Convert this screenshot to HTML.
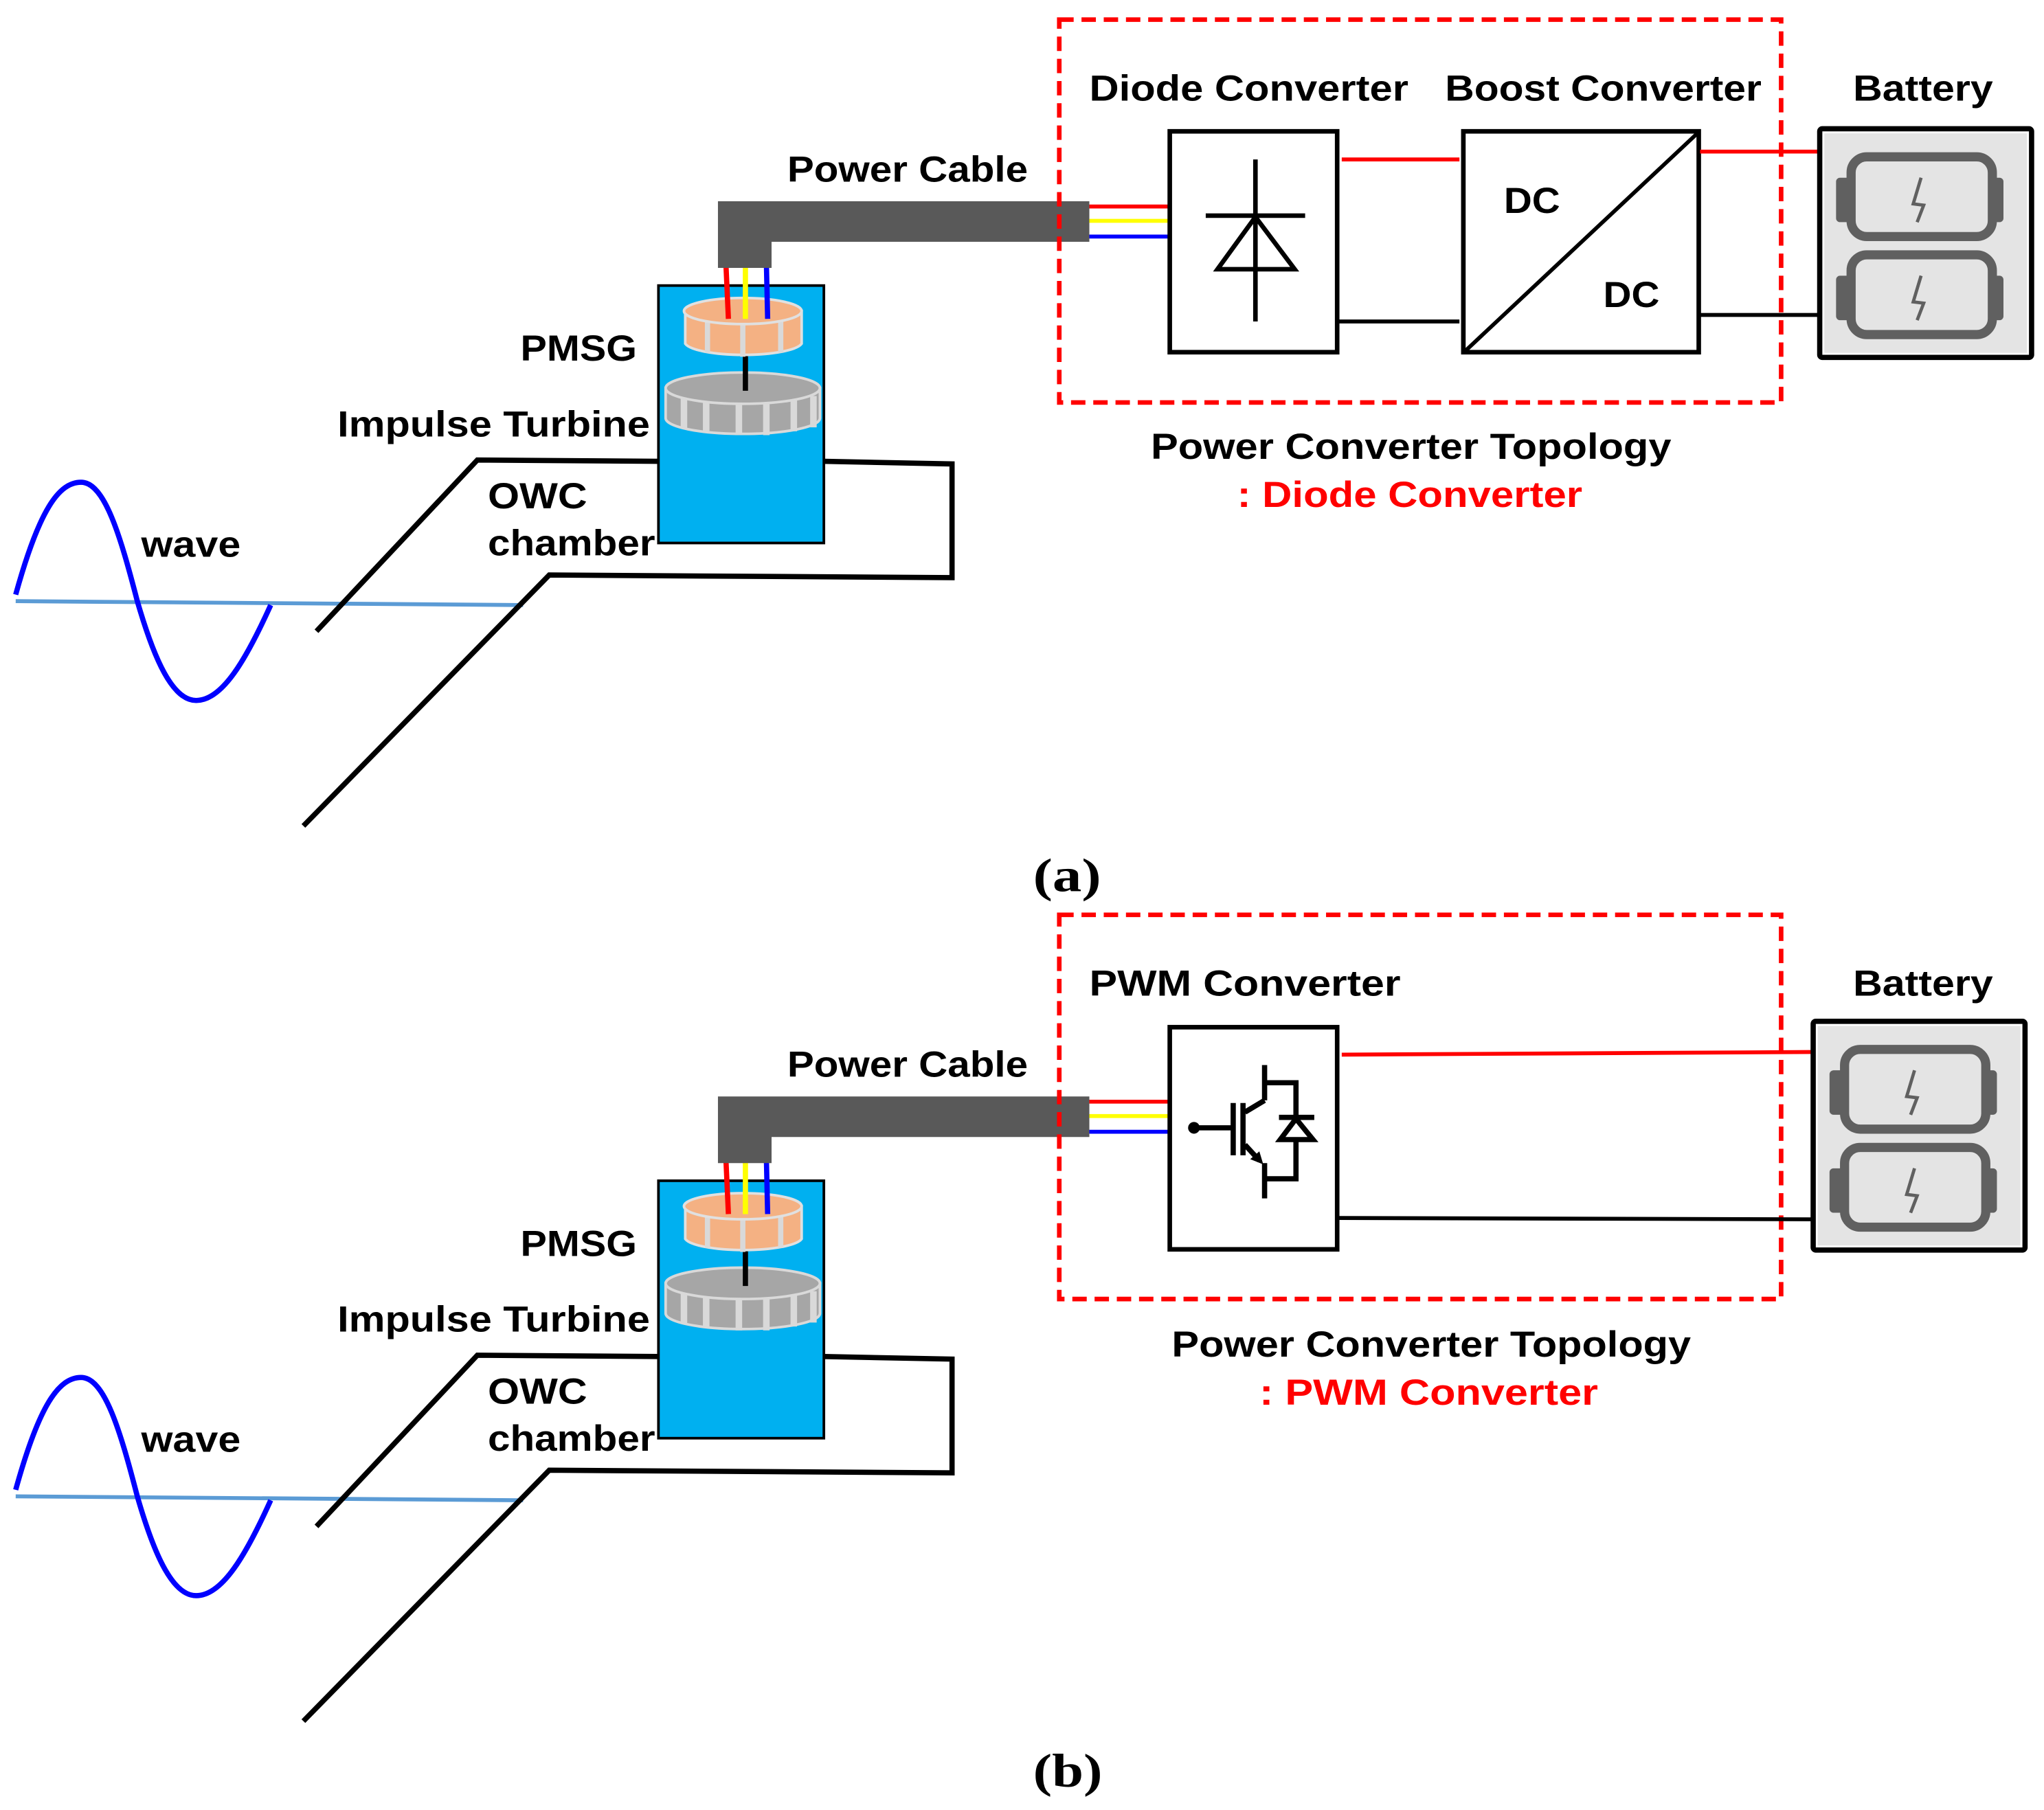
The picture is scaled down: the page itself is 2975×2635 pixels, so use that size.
<!DOCTYPE html>
<html><head><meta charset="utf-8"><style>html,body{margin:0;padding:0;background:#fff}svg{display:block}text{font-family:"Liberation Sans",sans-serif;font-weight:bold;font-size:28px;fill:#000}</style></head>
<body>
<svg width="2975" height="2635" viewBox="0 0 1563 1385" preserveAspectRatio="none" xmlns="http://www.w3.org/2000/svg">
<defs>
<g id="left">
  <!-- water line -->
  <line x1="12" y1="460" x2="400" y2="463" stroke="#5b9bd5" stroke-width="3"/>
  <!-- wave -->
  <path d="M12,455 C30,390 45,369 62,369 C80,369 92,410 105,460 C118,505 132,536 150,536 C170,536 188,505 207,463" fill="none" stroke="#0000ff" stroke-width="4"/>
  <!-- OWC chamber -->
  <g stroke="#000" stroke-width="4" fill="none">
    <polyline points="242,483 365,352 503,353"/>
    <polyline points="630,353 728,355 728,442 420,440 232,632"/>
  </g>
  <!-- blue box -->
  <rect x="503.5" y="218.5" width="126.5" height="197" fill="#00b0f0" stroke="#000" stroke-width="2"/>
  <!-- turbine -->
  <path d="M509,297 L509,320 A59,12 0 0 0 627,320 L627,297 Z" fill="#a6a6a6" stroke="#d9d9d9" stroke-width="2"/>
  <g stroke="#d9d9d9" stroke-width="5">
    <line x1="523" y1="303" x2="523" y2="328"/><line x1="540" y1="307" x2="540" y2="331"/><line x1="565" y1="309" x2="565" y2="333"/><line x1="586" y1="309" x2="586" y2="333"/><line x1="607" y1="306" x2="607" y2="330"/><line x1="622" y1="303" x2="622" y2="327"/>
  </g>
  <ellipse cx="568" cy="297" rx="59" ry="12" fill="#a6a6a6" stroke="#d9d9d9" stroke-width="2"/>
  <!-- shaft -->
  <line x1="570" y1="272" x2="570" y2="299" stroke="#000" stroke-width="4"/>
  <!-- generator -->
  <path d="M524,238 L524,263 A45,10 0 0 0 613,263 L613,238 Z" fill="#f4b183" stroke="#e0e0e0" stroke-width="2"/>
  <g stroke="#d9d9d9" stroke-width="4">
    <line x1="541" y1="246" x2="541" y2="270"/><line x1="568" y1="248" x2="568" y2="273"/><line x1="597" y1="246" x2="597" y2="270"/>
  </g>
  <ellipse cx="568" cy="238" rx="45" ry="10" fill="#f4b183" stroke="#e0e0e0" stroke-width="2"/>
  <!-- wires -->
  <line x1="555" y1="200" x2="557" y2="244" stroke="#ff0000" stroke-width="4"/>
  <line x1="570" y1="200" x2="570" y2="244" stroke="#ffff00" stroke-width="4"/>
  <line x1="586" y1="200" x2="587" y2="244" stroke="#0000ff" stroke-width="4"/>
  <!-- cable -->
  <path d="M549,154 L833,154 L833,185 L590,185 L590,205 L549,205 Z" fill="#595959"/>
  <line x1="833" y1="158" x2="893" y2="158" stroke="#ff0000" stroke-width="3"/>
  <line x1="833" y1="169" x2="893" y2="169" stroke="#ffff00" stroke-width="3"/>
  <line x1="833" y1="181" x2="893" y2="181" stroke="#0000ff" stroke-width="3"/>
  <!-- labels -->
  <text x="602" y="139" textLength="184" lengthAdjust="spacingAndGlyphs">Power Cable</text>
  <text x="398" y="276" textLength="89" lengthAdjust="spacingAndGlyphs">PMSG</text>
  <text x="258" y="334" textLength="239" lengthAdjust="spacingAndGlyphs">Impulse Turbine</text>
  <text x="373" y="389" textLength="76" lengthAdjust="spacingAndGlyphs">OWC</text>
  <text x="373" y="425" textLength="128" lengthAdjust="spacingAndGlyphs">chamber</text>
  <text x="108" y="426" textLength="76" lengthAdjust="spacingAndGlyphs">wave</text>
</g>
<g id="batt">
  <rect x="1391.5" y="98.5" width="162" height="175" rx="2" fill="#fff" stroke="#000" stroke-width="4"/>
  <rect x="1395" y="102" width="155" height="168" fill="#e4e4e4"/>
  <g fill="#606060">
    <rect x="1404" y="136" width="12" height="34" rx="3"/><rect x="1520" y="136" width="12" height="34" rx="3"/>
    <rect x="1404" y="211" width="12" height="34" rx="3"/><rect x="1520" y="211" width="12" height="34" rx="3"/>
  </g>
  <g fill="#e4e4e4" stroke="#606060" stroke-width="7">
    <rect x="1415.5" y="120" width="108" height="61" rx="12"/>
    <rect x="1415.5" y="195" width="108" height="61" rx="12"/>
  </g>
  <g fill="none" stroke="#606060" stroke-width="2.5">
    <polyline points="1469,136 1463,156 1471,157 1466,170"/>
    <polyline points="1469,211 1463,231 1471,232 1466,245"/>
  </g>
</g>
</defs>

<!-- ===== Panel (a) ===== -->
<use href="#left"/>
<rect x="810" y="15" width="552" height="293" fill="none" stroke="#ff0000" stroke-width="3.5" stroke-dasharray="11,6"/>
<rect x="894.5" y="100.5" width="128" height="169" fill="#fff" stroke="#000" stroke-width="3.5"/>
<g stroke="#000" stroke-width="3.5" fill="none">
  <line x1="960" y1="122" x2="960" y2="246"/>
  <line x1="922" y1="165" x2="998" y2="165"/>
  <polygon points="960,166 931,206 990,206"/>
</g>
<line x1="1026" y1="122" x2="1116" y2="122" stroke="#ff0000" stroke-width="3"/>
<line x1="1023" y1="246" x2="1116" y2="246" stroke="#000" stroke-width="3"/>
<rect x="1119" y="100.5" width="180" height="169" fill="#fff" stroke="#000" stroke-width="3.5"/>
<line x1="1120" y1="269" x2="1299" y2="101" stroke="#000" stroke-width="3"/>
<text x="1150" y="163" textLength="43" lengthAdjust="spacingAndGlyphs">DC</text>
<text x="1226" y="235" textLength="43" lengthAdjust="spacingAndGlyphs">DC</text>
<line x1="1300" y1="116" x2="1390" y2="116" stroke="#ff0000" stroke-width="3"/>
<line x1="1300" y1="241" x2="1390" y2="241" stroke="#000" stroke-width="3"/>
<use href="#batt"/>
<text x="833" y="77" textLength="244" lengthAdjust="spacingAndGlyphs">Diode Converter</text>
<text x="1105" y="77" textLength="242" lengthAdjust="spacingAndGlyphs">Boost Converter</text>
<text x="1417" y="77" textLength="107" lengthAdjust="spacingAndGlyphs">Battery</text>
<text x="880" y="351" textLength="398" lengthAdjust="spacingAndGlyphs">Power Converter Topology</text>
<text x="946" y="388" textLength="264" lengthAdjust="spacingAndGlyphs" style="fill:#ff0000">: Diode Converter</text>
<text x="790" y="682" textLength="52" lengthAdjust="spacingAndGlyphs" style="font-family:'Liberation Serif',serif;font-size:36px">(a)</text>

<!-- ===== Panel (b) ===== -->
<use href="#left" y="685"/>
<rect x="810" y="700" width="552" height="294" fill="none" stroke="#ff0000" stroke-width="3.5" stroke-dasharray="11,6"/>
<rect x="894.5" y="786" width="128" height="170" fill="#fff" stroke="#000" stroke-width="3.5"/>
<g stroke="#000" stroke-width="4" fill="none">
  <line x1="913" y1="863" x2="942" y2="863"/>
  <line x1="943" y1="844" x2="943" y2="884"/>
  <line x1="950.5" y1="844" x2="950.5" y2="884"/>
  <line x1="952" y1="851" x2="967" y2="842"/>
  <polyline points="967,815 967,842"/>
  <polyline points="967,828.5 991,828.5 991,855"/>
  <line x1="978" y1="855" x2="1005" y2="855"/>
  <polygon points="991,856 979,872 1004,872"/>
  <polyline points="991,872 991,902 967,902"/>
  <line x1="967" y1="890" x2="967" y2="917"/>
  <line x1="952" y1="876" x2="963" y2="888"/>
</g>
<circle cx="913" cy="863" r="4.5" fill="#000"/>
<polygon points="966,891 956,887 963,881" fill="#000"/>
<line x1="1026" y1="807" x2="1385" y2="805" stroke="#ff0000" stroke-width="3"/>
<line x1="1023" y1="932" x2="1385" y2="933" stroke="#000" stroke-width="3"/>
<use href="#batt" x="-5" y="683"/>
<text x="833" y="762" textLength="238" lengthAdjust="spacingAndGlyphs">PWM Converter</text>
<text x="1417" y="762" textLength="107" lengthAdjust="spacingAndGlyphs">Battery</text>
<text x="896" y="1038" textLength="397" lengthAdjust="spacingAndGlyphs">Power Converter Topology</text>
<text x="963" y="1075" textLength="259" lengthAdjust="spacingAndGlyphs" style="fill:#ff0000">: PWM Converter</text>
<text x="790" y="1367" textLength="53" lengthAdjust="spacingAndGlyphs" style="font-family:'Liberation Serif',serif;font-size:36px">(b)</text>
</svg>
</body></html>
